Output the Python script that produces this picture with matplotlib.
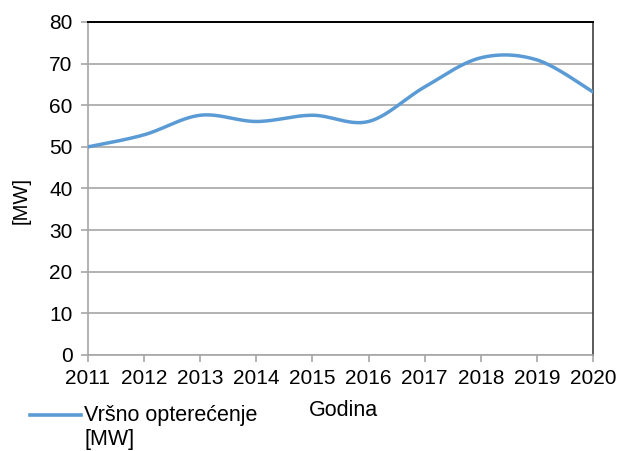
import numpy as np
import matplotlib
matplotlib.use("Agg")
import matplotlib.pyplot as plt
from matplotlib.lines import Line2D

plt.rcParams['font.family'] = ['Liberation Sans', 'DejaVu Sans']

years = [2011, 2012, 2013, 2014, 2015, 2016, 2017, 2018, 2019, 2020]
peak_load = [50.0, 52.9, 57.6, 56.1, 57.6, 56.1, 64.4, 71.4, 70.9, 63.2]
y_ticks = [0, 10, 20, 30, 40, 50, 60, 70, 80]
series_label = ["Vršno opterećenje", "[MW]"]
x_title = "Godina"
y_title = "[MW]"

LINE_COLOR = "#5B9BD5"
GRID_COLOR = "#A6A6A6"


def smooth_curve(x, y, steps=40):
    """Catmull-Rom style smoothing like spreadsheet 'smoothed line' charts."""
    x = np.asarray(x, float)
    y = np.asarray(y, float)
    n = len(x)
    xs, ys = [], []
    for i in range(n - 1):
        p0 = np.array([x[max(i - 1, 0)], y[max(i - 1, 0)]])
        p1 = np.array([x[i], y[i]])
        p2 = np.array([x[i + 1], y[i + 1]])
        p3 = np.array([x[min(i + 2, n - 1)], y[min(i + 2, n - 1)]])
        c1 = p1 + (p2 - p0) / 6.0
        c2 = p2 - (p3 - p1) / 6.0
        t = np.linspace(0, 1, steps, endpoint=(i == n - 2))[:, None]
        pts = ((1 - t) ** 3) * p1 + 3 * ((1 - t) ** 2) * t * c1 \
            + 3 * (1 - t) * t ** 2 * c2 + t ** 3 * p2
        xs.append(pts[:, 0])
        ys.append(pts[:, 1])
    return np.concatenate(xs), np.concatenate(ys)


fig = plt.figure(figsize=(6.21, 4.51), dpi=100)
ax = fig.add_axes([88 / 621, 96 / 451, 505 / 621, 333 / 451])

sx, sy = smooth_curve(years, peak_load)
ax.plot(sx, sy, color=LINE_COLOR, linewidth=2.5, solid_capstyle='round', zorder=3)

ax.set_xlim(years[0], years[-1])
ax.set_ylim(y_ticks[0], y_ticks[-1])
ax.set_xticks(years)
ax.set_xticklabels([str(y) for y in years])
ax.set_yticks(y_ticks)

ax.grid(axis='y', color=GRID_COLOR, linewidth=1.2, zorder=1)
ax.set_axisbelow(True)

for side in ('left', 'bottom'):
    ax.spines[side].set_color(GRID_COLOR)
    ax.spines[side].set_linewidth(1.2)
ax.spines['top'].set_color('#000000')
ax.spines['top'].set_linewidth(1.4)
ax.spines['right'].set_color('#404040')
ax.spines['right'].set_linewidth(1.2)

ax.tick_params(axis='both', direction='out', length=5, width=1.2,
               color=GRID_COLOR, labelsize=15, labelcolor='#000000')
ax.tick_params(axis='x', pad=5)
ax.tick_params(axis='y', pad=6)

fig.text(21 / 621, 1 - 201 / 451, y_title, rotation=90, fontsize=14.5,
         ha='center', va='center')

# series key and axis title in the row below the axis
fig.add_artist(Line2D([30 / 621, 81 / 621], [1 - 415 / 451, 1 - 415 / 451],
                      color=LINE_COLOR, linewidth=2.6))
fig.text(84 / 621, 1 - 415 / 451, series_label[0], fontsize=15.5,
         ha='left', va='center')
fig.text(84 / 621, 1 - 440 / 451, series_label[1], fontsize=15.5,
         ha='left', va='center')
fig.text(309 / 621, 1 - 411 / 451, x_title, fontsize=15.5,
         ha='left', va='center')

fig.savefig("out.png", dpi=100)
